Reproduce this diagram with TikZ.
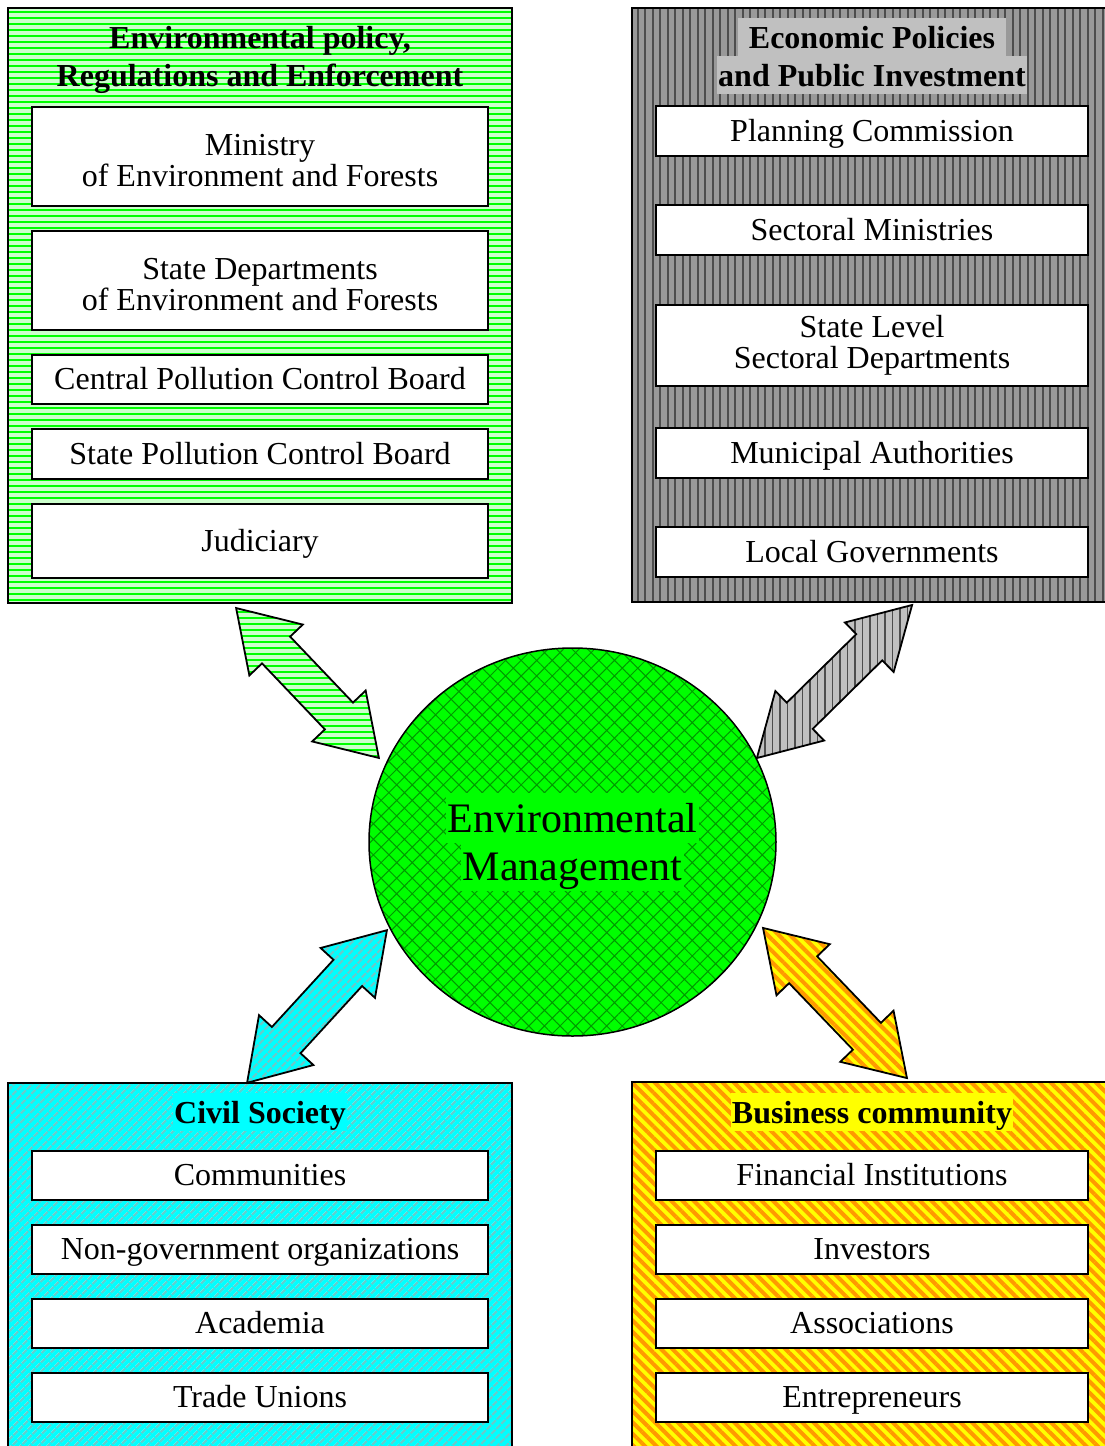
\documentclass[tikz,border=0pt]{standalone}
\usepackage{fontspec}
\setmainfont{Liberation Serif}
\usetikzlibrary{patterns.meta,shapes.geometric,shapes.arrows}

% palette
\definecolor{stripegreen}{HTML}{00FF00}
\definecolor{palegreen}{HTML}{CCFFCC}
\definecolor{panelgray}{HTML}{999999}
\definecolor{lightpanelgray}{HTML}{C0C0C0}
\definecolor{stripegray}{HTML}{4D4D4D}
\definecolor{fullcyan}{HTML}{00FFFF}
\definecolor{stripecyan}{HTML}{66CCCC}
\definecolor{fullyellow}{HTML}{FFFF00}
\definecolor{stripeorange}{HTML}{FF9900}
\definecolor{hatchgreen}{HTML}{009900}

% type sizes
\newcommand\txtbody{\fontsize{32pt}{31pt}\selectfont}
\newcommand\txttitle{\fontsize{32pt}{38pt}\selectfont\bfseries}
\newcommand\txtbig{\fontsize{42pt}{48pt}\selectfont}
% extra head room for the first line of a two-line entry
\newcommand\firstline{\rule{0pt}{30pt}}

\tikzset{
  panel/.style={draw=black, line width=2pt, rectangle, inner sep=0pt},
  greenfill/.style={preaction={fill=palegreen},
    pattern={Lines[angle=0,distance=6pt,line width=2pt]}, pattern color=stripegreen},
  grayfill/.style={preaction={fill=panelgray},
    pattern={Lines[angle=90,distance=7.5pt,line width=2pt]}, pattern color=stripegray},
  lightgrayfill/.style={preaction={fill=lightpanelgray},
    pattern={Lines[angle=90,distance=7.5pt,line width=1.5pt]}, pattern color=stripegray},
  cyanfill/.style={preaction={fill=fullcyan},
    pattern={Lines[angle=45,distance=6.5pt,line width=2.5pt]}, pattern color=stripecyan},
  yellowfill/.style={preaction={fill=fullyellow},
    pattern={Lines[angle=-45,distance=8pt,line width=4pt]}, pattern color=stripeorange},
  hubfill/.style={preaction={fill=stripegreen},
    pattern={Hatch[angle=45,distance=11pt,line width=1pt]}, pattern color=hatchgreen},
  entry/.style={draw=black, line width=1.8pt, fill=white, rectangle,
    inner sep=0pt, align=center, font=\txtbody},
  single/.style={entry, text height=22pt, text depth=2pt},
  wideentry/.style={minimum width=456pt},
  narrowentry/.style={minimum width=432pt},
  heading/.style={anchor=base, font=\txttitle, inner sep=0pt},
  marked/.style={heading, text height=28pt, text depth=6pt, inner ysep=2pt, inner xsep=1pt},
  hubtext/.style={anchor=base, font=\txtbig, fill=stripegreen, inner xsep=2pt,
    inner ysep=1pt, text height=38pt, text depth=10pt},
  link/.style={double arrow, draw=black, line width=1.8pt, inner xsep=0pt,
    inner ysep=18.5pt, minimum width=72pt, double arrow head extend=17.5pt,
    double arrow tip angle=65},
}

\begin{document}
\begin{tikzpicture}[x=1pt,y=-1pt]
\useasboundingbox (0,0) rectangle (1105,1446);
\clip (0,0) rectangle (1105,1446);

% ---- panels ----
\node[panel, greenfill, minimum width=504pt, minimum height=595pt] (policy) at (260,305.5) {};
\node[panel, grayfill, minimum width=500pt, minimum height=594pt] (economy) at (882,305) {};
\node[panel, cyanfill, minimum width=504pt, minimum height=400pt] (civil) at (260,1283) {};
\node[panel, yellowfill, minimum width=500pt, minimum height=400pt] (business) at (882,1282) {};

% ---- headings ----
\node[heading] (policy-t1) at (260,48) {Environmental policy,};
\node[heading] (policy-t2) at (260,86) {Regulations and Enforcement};
\node[marked, fill=lightpanelgray, inner xsep=11pt] (economy-t1) at (872,48) {Economic Policies};
\node[marked, fill=lightpanelgray] (economy-t2) at (872,86) {and Public Investment};
\node[marked, fill=fullcyan] (civil-t) at (260,1123) {Civil Society};
\node[marked, fill=fullyellow] (business-t) at (872,1123) {Business community};

% ---- policy entries ----
\node[entry, wideentry, minimum height=99pt] (moef) at (260,156.5) {\firstline Ministry\\of Environment and Forests};
\node[entry, wideentry, minimum height=99pt] (sdef) at (260,280.5) {\firstline State Departments\\of Environment and Forests};
\node[single, wideentry, minimum height=49pt] (cpcb) at (260,379.5) {Central Pollution Control Board};
\node[single, wideentry, minimum height=50pt] (spcb) at (260,454) {State Pollution Control Board};
\node[single, wideentry, minimum height=74pt] (court) at (260,541) {Judiciary};

% ---- economy entries ----
\node[single, narrowentry, minimum height=50pt] (plan) at (872,131) {Planning Commission};
\node[single, narrowentry, minimum height=50pt] (minis) at (872,230) {Sectoral Ministries};
\node[entry, narrowentry, minimum height=81pt] (statelvl) at (872,345.5) {State Level\\Sectoral Departments};
\node[single, narrowentry, minimum height=50pt] (muni) at (872,453) {Municipal Authorities};
\node[single, narrowentry, minimum height=50pt] (localgov) at (872,552) {Local Governments};

% ---- civil society entries ----
\node[single, wideentry, minimum height=49pt] (comm) at (260,1175.5) {Communities};
\node[single, wideentry, minimum height=49pt] (ngo) at (260,1249.5) {Non-government organizations};
\node[single, wideentry, minimum height=49pt] (acad) at (260,1323.5) {Academia};
\node[single, wideentry, minimum height=49pt] (unions) at (260,1397.5) {Trade Unions};

% ---- business entries ----
\node[single, narrowentry, minimum height=49pt] (fin) at (872,1175.5) {Financial Institutions};
\node[single, narrowentry, minimum height=49pt] (invest) at (872,1249.5) {Investors};
\node[single, narrowentry, minimum height=49pt] (assoc) at (872,1323.5) {Associations};
\node[single, narrowentry, minimum height=49pt] (entre) at (872,1397.5) {Entrepreneurs};

% ---- hub ----
\node[ellipse, draw=black, line width=1.5pt, hubfill, inner sep=0pt,
      minimum width=407pt, minimum height=388pt] (hub) at (572.5,842) {};
\node[hubtext] (hub-l1) at (572.5,832) {Environmental};
\node[hubtext] (hub-l2) at (572.5,880) {Management};

% ---- two-way links between the hub and the panels ----
\node[link, greenfill, rotate=-46.4, minimum height=207pt] (link-policy) at (307.5,683) {};
\node[link, lightgrayfill, rotate=44.6, minimum height=218pt, minimum width=68pt,
      inner ysep=17.7pt, double arrow head extend=16.3pt, double arrow tip angle=60] (link-economy) at (834.5,681.5) {};
\node[link, cyanfill, rotate=47.5, minimum height=207pt] (link-civil) at (317,1006.5) {};
\node[link, yellowfill, rotate=-46.2, minimum height=208pt] (link-business) at (835,1003) {};
\end{tikzpicture}
\end{document}
